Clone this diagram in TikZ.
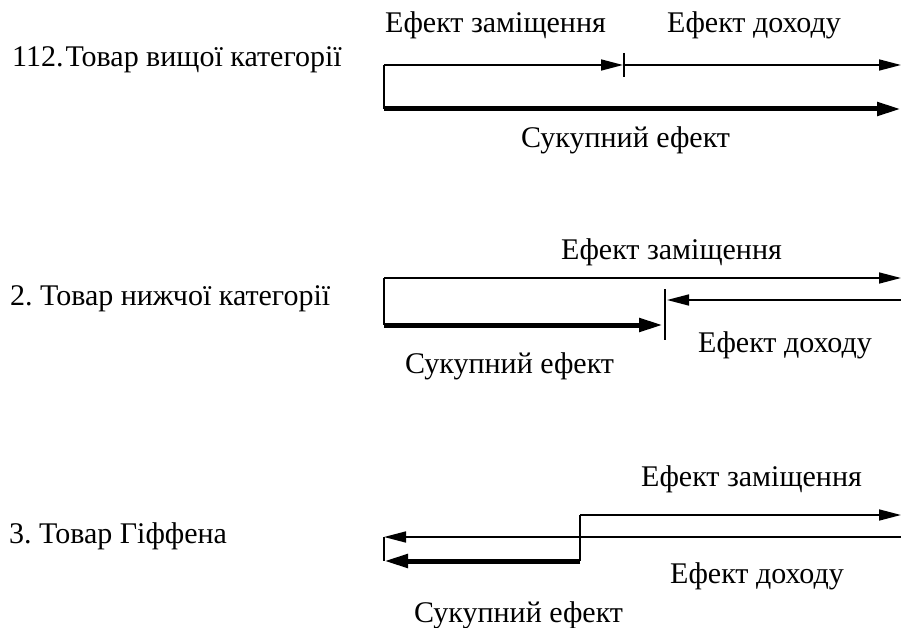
\documentclass[tikz,border=0pt]{standalone}
\usepackage{fontspec}
\setmainfont{Liberation Serif}
\usetikzlibrary{arrows.meta}
\frenchspacing
\begin{document}
\begin{tikzpicture}[x=1pt,y=-1pt,
  lbl/.style={anchor=base west,inner sep=0pt,font=\fontsize{30}{36}\selectfont},
  thin/.style={line width=1.6pt},
  thick/.style={line width=5pt},
  tarr/.style={-{Triangle[length=22pt,width=11pt]}},
  karr/.style={-{Triangle[length=24pt,width=13pt]}},
  tick/.style={line width=1.6pt}]
\useasboundingbox (0,0) rectangle (901,628);
% labels
\node[lbl] (l1) at (12,67) {112.\hspace{2pt}Товар вищої категорії};
\node[lbl] (l2) at (10,305) {2. Товар нижчої категорії};
\node[lbl] (l3) at (9,543) {3. Товар Гіффена};
% panel 1
\node[lbl] (s1) at (385,33) {Ефект заміщення};
\node[lbl] (i1) at (667,33) {Ефект доходу};
\node[lbl] (t1) at (521,148) {Сукупний ефект};
\coordinate (a1) at (384,65);
\coordinate (b1) at (623,65);
\coordinate (c1) at (901,65);
\coordinate (d1) at (384,109);
\coordinate (e1) at (901,109);
\coordinate (k1a) at (624,53);
\coordinate (k1b) at (624,77);
\draw[thin,tarr] (a1) -- (b1);
\draw[thin,tarr] (b1) -- (c1);
\draw[tick] (k1a) -- (k1b);
\draw[thin] (a1) -- (d1);
\draw[thick,karr] (d1) -- (e1);
% panel 2
\node[lbl] (s2) at (561,259) {Ефект заміщення};
\node[lbl] (i2) at (698,352) {Ефект доходу};
\node[lbl] (t2) at (405,373) {Сукупний ефект};
\coordinate (a2) at (384,278);
\coordinate (c2) at (901,278);
\coordinate (d2) at (384,325);
\coordinate (e2) at (663,325);
\coordinate (f2) at (901,300);
\coordinate (g2) at (667,300);
\coordinate (k2a) at (665,289);
\coordinate (k2b) at (665,340);
\draw[thin,tarr] (a2) -- (c2);
\draw[thin] (a2) -- (d2);
\draw[thick,karr] (d2) -- (e2);
\draw[tick] (k2a) -- (k2b);
\draw[thin,tarr] (f2) -- (g2);
% panel 3
\node[lbl] (s3) at (641,486) {Ефект заміщення};
\node[lbl] (i3) at (670,583) {Ефект доходу};
\node[lbl] (t3) at (414,622) {Сукупний ефект};
\coordinate (a3) at (580,515);
\coordinate (c3) at (901,515);
\coordinate (d3) at (580,561);
\coordinate (e3) at (384,561);
\coordinate (f3) at (901,537);
\coordinate (g3) at (384,537);
\draw[thin,tarr] (a3) -- (c3);
\draw[thin] (a3) -- (d3);
\draw[thick,karr] (d3) -- (e3);
\draw[thin,tarr] (f3) -- (g3);
\draw[thin] (g3) -- (e3);
\end{tikzpicture}
\end{document}
